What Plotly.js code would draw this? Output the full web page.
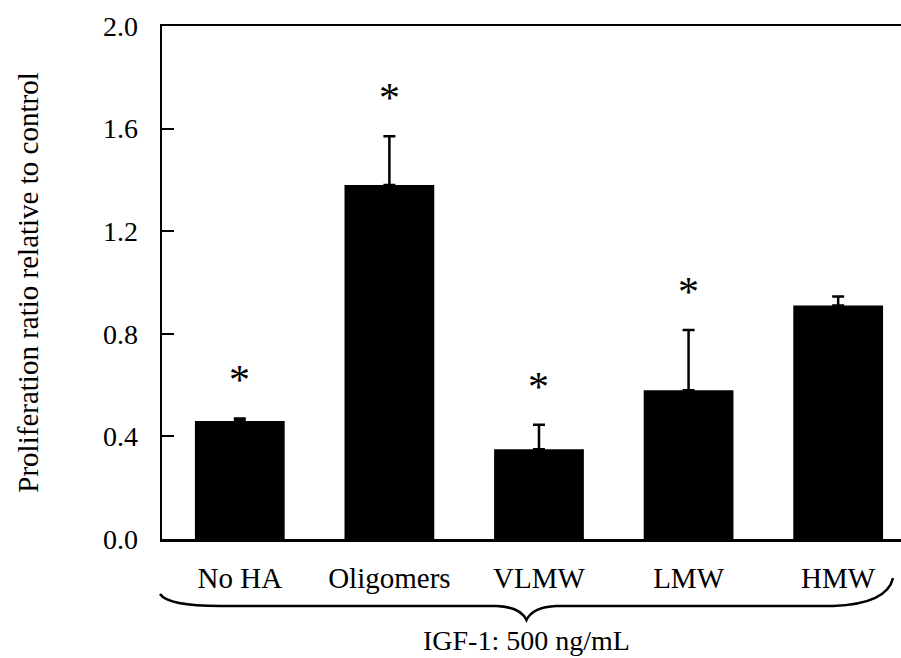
<!DOCTYPE html>
<html>
<head>
<meta charset="utf-8">
<script src="https://cdn.plot.ly/plotly-3.0.1.min.js"></script>
<style>
  html, body { margin: 0; padding: 0; background: #fff; }
  #chart { width: 901px; height: 658px; }
</style>
</head>
<body>
<div id="chart"></div>
<script>
// Proliferation ratio (relative to control) for each hyaluronan treatment
const categories = ['No HA', 'Oligomers', 'VLMW', 'LMW', 'HMW'];
const ratio = [0.46, 1.38, 0.35, 0.58, 0.91];
const sem = [0.01, 0.19, 0.095, 0.235, 0.035];
const significant = [true, true, true, true, false];
const yTickVals = [0.0, 0.4, 0.8, 1.2, 1.6, 2.0];
const groupLabel = 'IGF-1: 500 ng/mL';

const FONT = 'Liberation Serif, Times New Roman, serif';

// plot area in pixels: left 162, right 901, top 26, bottom 539
const W = 901, H = 658;
const M = { l: 162, r: 0, t: 26, b: 119 };
const px = X => (X - M.l) / (W - M.l - M.r);
const py = Y => (H - M.b - Y) / (H - M.t - M.b);

const trace = {
  type: 'bar',
  x: categories,
  y: ratio,
  marker: { color: '#000', line: { width: 0 } },
  error_y: {
    type: 'data',
    symmetric: false,
    array: sem,
    arrayminus: sem.map(() => 0),
    color: '#000',
    thickness: 2.5,
    width: 6
  },
  hoverinfo: 'x+y'
};

// asterisks above the significant groups
const stars = categories
  .map((c, i) => ({ c, i }))
  .filter(d => significant[d.i])
  .map(d => ({
    x: d.c,
    y: ratio[d.i] + sem[d.i],
    xref: 'x', yref: 'y',
    text: '*',
    showarrow: false,
    yshift: 38,
    font: { family: FONT, size: 42, color: '#000' }
  }));

// curly brace grouping all treatments
const braceL = 160, braceR = 893, braceMid = (braceL + braceR) / 2;
const yTop = 594, yFlat = 606, yTip = 620;
const P = (X, Y) => px(X).toFixed(4) + ',' + py(Y).toFixed(4);
const bracePath =
  'M' + P(braceL, yTop) +
  ' Q' + P(braceL + 8, yFlat) + ' ' + P(braceL + 60, yFlat) +
  ' L' + P(braceMid - 30, yFlat) +
  ' Q' + P(braceMid - 6, yFlat + 1) + ' ' + P(braceMid, yTip) +
  ' Q' + P(braceMid + 6, yFlat + 1) + ' ' + P(braceMid + 30, yFlat) +
  ' L' + P(braceR - 60, yFlat) +
  ' Q' + P(braceR - 6, yFlat - 2) + ' ' + P(braceR, yTop - 16);

const layout = {
  width: W, height: H,
  margin: M,
  paper_bgcolor: '#fff',
  plot_bgcolor: '#fff',
  showlegend: false,
  bargap: 0.4,
  font: { family: FONT, color: '#000' },
  xaxis: {
    type: 'category',
    range: [-0.52, 4.42],
    showline: true,
    linecolor: '#000',
    linewidth: 2.5,
    mirror: true,
    ticks: '',
    showgrid: false,
    zeroline: false,
    tickfont: { family: FONT, size: 29, color: '#000' },
    ticklabelstandoff: 12
  },
  yaxis: {
    range: [0, 2.0],
    tickvals: yTickVals,
    tickformat: '.1f',
    ticks: 'inside',
    ticklen: 12,
    tickwidth: 2,
    tickcolor: '#000',
    showline: true,
    linecolor: '#000',
    linewidth: 2.5,
    showgrid: false,
    zeroline: false,
    tickfont: { family: FONT, size: 28, color: '#000' },
    ticklabelstandoff: 16,
    title: {
      text: 'Proliferation ratio relative to control',
      font: { family: FONT, size: 29, color: '#000' },
      standoff: 56
    },
    automargin: false
  },
  shapes: [{
    type: 'path',
    xref: 'paper', yref: 'paper',
    path: bracePath,
    line: { color: '#000', width: 2.5 }
  }],
  annotations: stars.concat([{
    x: px(braceMid), y: py(640),
    xref: 'paper', yref: 'paper',
    text: groupLabel,
    showarrow: false,
    xanchor: 'center', yanchor: 'middle',
    font: { family: FONT, size: 28, color: '#000' }
  }])
};

Plotly.newPlot('chart', [trace], layout, { displayModeBar: false, staticPlot: true });
</script>
</body>
</html>
